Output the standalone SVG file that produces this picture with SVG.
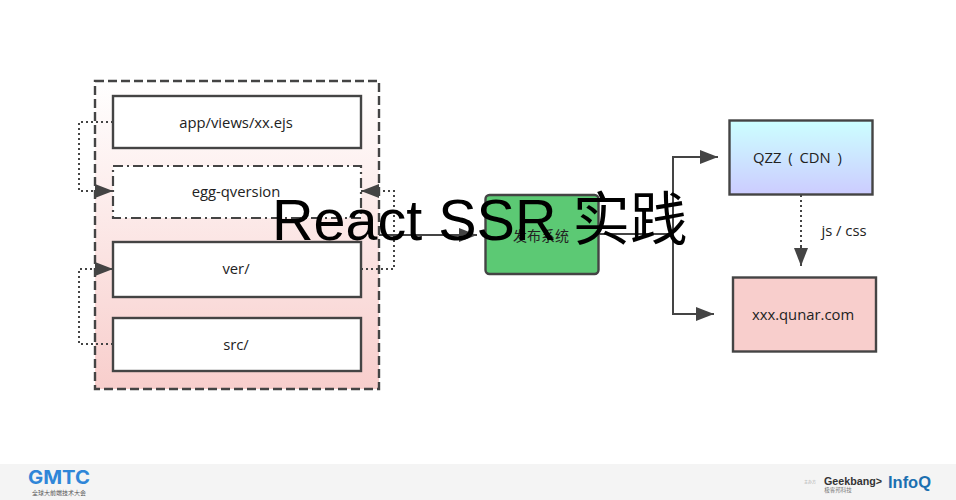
<svg xmlns="http://www.w3.org/2000/svg" width="956" height="500" viewBox="0 0 956 500">
<style>
.box{stroke:#444;stroke-width:2.4}
.wire{fill:none;stroke:#444;stroke-width:2}
.dot{fill:none;stroke:#444;stroke-width:2;stroke-dasharray:2 3}
.t{font-family:"Open Sans","Noto Sans CJK SC",sans-serif;font-size:14.800px;fill:#222;text-anchor:middle}
.title{font-family:"Liberation Sans","Noto Sans CJK SC",sans-serif;font-size:57.500px;fill:#000}
</style>
<defs>
<linearGradient id="pk" x1="0" y1="0" x2="0" y2="1"><stop offset="0" stop-color="#fff"/><stop offset="1" stop-color="#f8cecc"/></linearGradient>
<linearGradient id="bl" x1="0" y1="0" x2="0" y2="1"><stop offset="0" stop-color="#ccffff"/><stop offset="1" stop-color="#ccccff"/></linearGradient>
<marker id="a" markerUnits="userSpaceOnUse" markerWidth="19" markerHeight="14" refX="18" refY="7" orient="auto"><path d="M0 0L18 7L0 14L0 0Z" fill="#444"/></marker>
</defs>
<rect width="956" height="500" fill="#fff"/>
<g id="footer">
<rect x="0" y="464" width="956" height="36" fill="#f4f4f4"/>
<text x="28" y="483.500" font-family="Inter,'Liberation Sans',sans-serif" font-size="19" font-weight="700" fill="#2f86d8" textLength="62" lengthAdjust="spacingAndGlyphs">GMTC</text>
<text x="59" y="495" font-family="'Noto Sans CJK SC',sans-serif" font-size="6" fill="#555" text-anchor="middle">全球大前端技术大会</text>
<text x="810" y="484" font-family="'Noto Sans CJK SC',sans-serif" font-size="4" fill="#aaa" text-anchor="middle">主办方</text>
<text x="824" y="485" font-family="'Liberation Sans',sans-serif" font-size="11" font-weight="700" fill="#333" textLength="58" lengthAdjust="spacingAndGlyphs">Geekbang&gt;</text>
<text x="838" y="491.500" font-family="'Noto Sans CJK SC',sans-serif" font-size="5.500" fill="#777" text-anchor="middle">极客邦科技</text>
<text x="888" y="488" font-family="'Liberation Sans',sans-serif" font-size="17" font-weight="700" fill="#1b6fb0" textLength="43" lengthAdjust="spacingAndGlyphs">InfoQ</text>
</g>
<g id="n-outer"><rect x="95" y="81" width="284" height="308" fill="url(#pk)" stroke="#444" stroke-width="2.400" stroke-dasharray="9 4"/></g>
<g id="n-app"><rect class="box" x="113" y="96" width="248" height="52" fill="#fff"/><text class="t" x="236" y="128">app/views/xx.ejs</text></g>
<g id="n-egg"><rect x="113" y="166" width="248" height="52" fill="#fff" stroke="#444" stroke-width="2.200" stroke-dasharray="10 4 2 4"/><text class="t" x="236" y="197">egg-qversion</text></g>
<g id="n-ver"><rect class="box" x="113" y="242" width="248" height="55" fill="#fff"/><text class="t" x="236" y="274">ver/</text></g>
<g id="n-src"><rect class="box" x="113" y="318" width="248" height="53" fill="#fff"/><text class="t" x="236" y="350">src/</text></g>
<g id="n-pub"><rect class="box" x="485.500" y="195" width="113" height="79" rx="4" fill="#5cc974"/><text class="t" x="541" y="241" style="font-size:14px">发布系统</text></g>
<g id="n-qzz"><rect class="box" x="729.500" y="120.500" width="143" height="74" fill="url(#bl)"/><text class="t" x="797.500" y="163" word-spacing="3">QZZ ( CDN )</text></g>
<g id="n-xxx"><rect class="box" x="733" y="277.500" width="143" height="74" fill="#f8cecc"/><text class="t" x="803" y="320">xxx.qunar.com</text></g>
<g id="connectors">
<path class="dot" d="M113 122H79V191H95"/>
<path class="wire" d="M94 191H113" marker-end="url(#a)"/>
<path class="dot" d="M113 344H79V269H95"/>
<path class="wire" d="M94 269H113" marker-end="url(#a)"/>
<path class="dot" d="M361 269H394V191H380"/>
<path class="wire" d="M380 191H361" marker-end="url(#a)"/>
<path class="wire" d="M379 235H477" marker-end="url(#a)"/>
<path class="wire" d="M599 234H673"/>
<path class="wire" d="M673 314V157H718" marker-end="url(#a)"/>
<path class="wire" d="M673 234V314H714" marker-end="url(#a)"/>
<path class="dot" d="M801 195V248"/>
<path class="wire" d="M801 247V266" marker-end="url(#a)"/>
<text class="t" x="844" y="236">js / css</text>
</g>
<text class="title" x="272" y="240">React SSR 实践</text>
</svg>
